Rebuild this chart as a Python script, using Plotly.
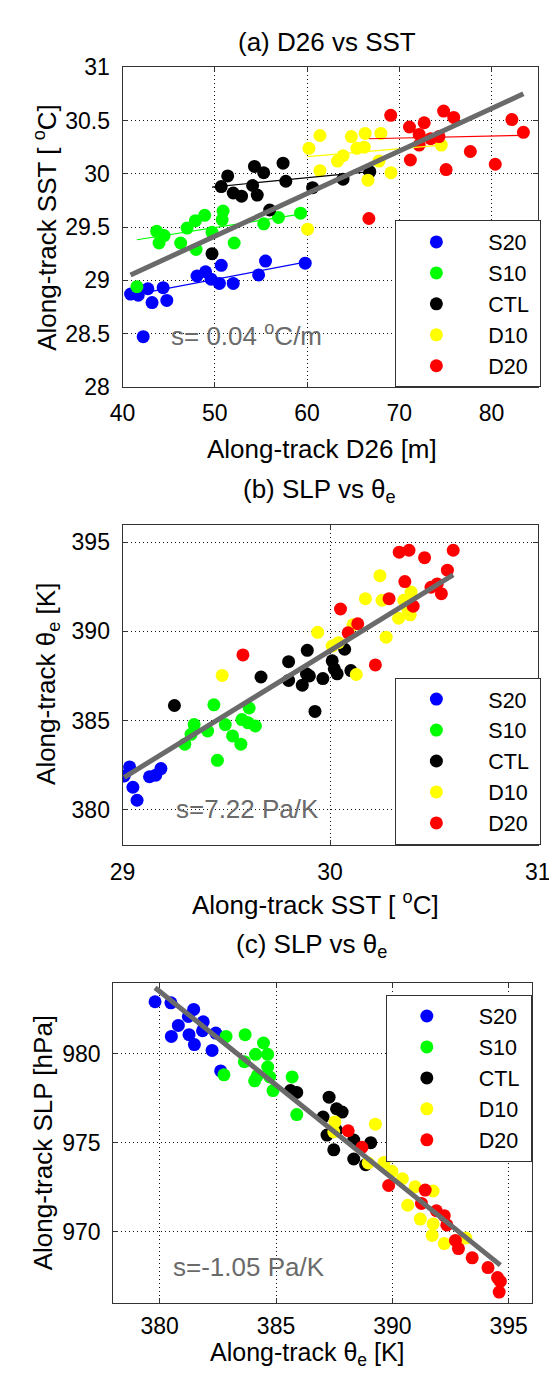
import plotly.graph_objects as go
import numpy as np

W, H = 557, 1375
groups = ["S20", "S10", "CTL", "D10", "D20"]
colors = {"S20": "#0000FF", "S10": "#00FF00", "CTL": "#000000", "D10": "#FFFF00", "D20": "#FF0000"}
GRAY = "#6a6a6a"

# ---------------- Panel (a): D26 vs SST ----------------
a_S20_x = [40.87, 41.7, 42.75, 43.2, 44.4, 44.8, 42.24, 48.07, 49.0, 49.6, 50.5, 50.7, 52.0, 54.75, 55.5, 59.8]
a_S20_y = [28.87, 28.86, 28.92, 28.79, 28.93, 28.81, 28.47, 29.04, 29.08, 29.01, 28.97, 29.14, 28.97, 29.05, 29.18, 29.16]
a_S10_x = [41.56, 43.7, 43.96, 44.5, 46.3, 47.0, 47.9, 47.97, 48.9, 49.7, 50.9, 50.8, 52.1, 55.3, 56.9, 59.3]
a_S10_y = [28.94, 29.46, 29.35, 29.42, 29.35, 29.49, 29.56, 29.29, 29.61, 29.45, 29.65, 29.57, 29.35, 29.53, 29.59, 29.63]
a_CTL_x = [49.7, 50.7, 51.4, 52.0, 52.9, 54.1, 54.3, 54.6, 55.3, 55.95, 57.4, 57.7, 60.6, 63.9, 66.8]
a_CTL_y = [29.25, 29.88, 29.98, 29.82, 29.79, 29.89, 30.07, 29.80, 30.01, 29.66, 30.10, 29.93, 29.87, 29.95, 30.02]
a_D10_x = [60.2, 60.06, 61.4, 61.4, 63.3, 63.9, 64.8, 65.4, 66.2, 66.3, 66.6, 67.8, 68.0, 69.1, 74.55]
a_D10_y = [30.24, 29.48, 30.36, 30.03, 30.12, 30.17, 30.35, 30.24, 30.25, 30.38, 29.94, 30.12, 30.38, 30.01, 30.27]
a_D20_x = [69.07, 66.7, 71.1, 71.2, 72.15, 72.7, 72.15, 73.4, 74.3, 74.8, 75.07, 75.9, 77.7, 80.4, 82.2, 83.45]
a_D20_y = [30.55, 29.58, 30.44, 30.13, 30.37, 30.48, 30.27, 30.33, 30.35, 30.59, 30.04, 30.53, 30.21, 30.09, 30.51, 30.39]
# per-group fit (slope, intercept)
a_fit_slope = [0.0165, 0.0136, 0.0085, 0.0075, 0.0019]
a_fit_icpt = [28.183, 28.815, 29.453, 29.711, 30.203]
a_all_slope, a_all_icpt = 0.04, 27.414

# ---------------- Panel (b): SST vs theta_e ----------------
b_S20_x = [29.008, 29.034, 29.05, 29.07, 29.13, 29.16, 29.185]
b_S20_y = [381.88, 382.39, 381.25, 380.52, 381.84, 381.93, 382.3]
b_S10_x = [29.30, 29.33, 29.345, 29.41, 29.44, 29.457, 29.495, 29.53, 29.57, 29.575, 29.61, 29.605, 29.64]
b_S10_y = [383.67, 384.22, 384.77, 384.41, 385.88, 382.76, 384.77, 384.13, 383.67, 385.05, 385.7, 384.87, 384.69]
b_CTL_x = [29.25, 29.667, 29.80, 29.80, 29.89, 29.886, 29.866, 29.927, 30.01, 30.02, 29.965, 30.034, 30.07, 30.10, 29.9]
b_CTL_y = [385.84, 387.44, 388.30, 387.25, 388.94, 387.62, 386.98, 385.51, 388.35, 387.9, 387.35, 387.62, 389.0, 387.8, 387.5]
b_D10_x = [29.48, 29.94, 30.01, 30.04, 30.11, 30.126, 30.17, 30.24, 30.25, 30.27, 30.33, 30.355, 30.375, 30.39, 30.386]
b_D10_y = [387.53, 389.95, 389.18, 389.37, 390.37, 387.58, 391.84, 393.13, 391.75, 389.68, 390.74, 391.75, 391.2, 392.21, 390.93]
b_D20_x = [29.58, 30.05, 30.087, 30.133, 30.218, 30.284, 30.333, 30.38, 30.36, 30.455, 30.40, 30.486, 30.516, 30.536, 30.565, 30.593]
b_D20_y = [388.68, 391.26, 389.92, 390.43, 388.12, 391.84, 394.45, 394.56, 392.8, 394.14, 391.42, 392.48, 392.67, 392.12, 393.44, 394.56]
b_all_slope, b_all_icpt = 7.17, 173.82

# ---------------- Panel (c): theta_e vs SLP ----------------
c_S20_x = [379.8, 380.48, 381.46, 381.23, 380.8, 380.5, 381.87, 381.26, 381.49, 381.84, 382.41, 382.25, 382.62]
c_S20_y = [982.93, 982.87, 982.5, 982.1, 981.6, 980.98, 981.8, 981.08, 980.52, 981.3, 981.17, 980.19, 979.04]
c_S10_x = [382.85, 383.67, 384.46, 384.12, 384.64, 383.64, 384.64, 384.19, 382.76, 385.69, 384.08, 384.73, 384.87, 385.89]
c_S10_y = [980.98, 981.08, 980.61, 979.97, 979.97, 979.56, 979.26, 978.76, 978.82, 978.7, 978.48, 978.7, 977.93, 976.58]
c_CTL_x = [385.62, 385.89, 387.28, 387.6, 387.84, 387.02, 387.19, 387.48, 388.34, 388.34, 389.07, 388.85, 387.6]
c_CTL_y = [977.93, 977.83, 977.56, 976.91, 976.72, 976.44, 975.43, 974.6, 975.15, 974.08, 975.0, 973.76, 975.7]
c_D10_x = [387.53, 387.48, 389.27, 388.96, 389.64, 389.98, 390.43, 390.98, 390.66, 391.75, 391.2, 391.75, 391.71, 392.23, 393.16]
c_D10_y = [976.17, 975.61, 976.04, 973.86, 973.89, 973.39, 972.97, 972.52, 971.48, 972.28, 970.7, 970.43, 969.78, 969.32, 969.63]
c_D20_x = [388.1, 388.69, 389.84, 391.41, 391.25, 391.89, 392.23, 392.34, 392.71, 392.84, 393.43, 394.11, 394.52, 394.64, 394.59]
c_D20_y = [975.67, 974.74, 972.59, 972.33, 971.58, 971.17, 970.89, 970.37, 969.5, 969.04, 968.52, 967.97, 967.41, 967.19, 966.59]
c_all_slope, c_all_icpt = -1.052, 1383.27

panels = {
    "a": {"S20": (a_S20_x, a_S20_y), "S10": (a_S10_x, a_S10_y), "CTL": (a_CTL_x, a_CTL_y),
          "D10": (a_D10_x, a_D10_y), "D20": (a_D20_x, a_D20_y)},
    "b": {"S20": (b_S20_x, b_S20_y), "S10": (b_S10_x, b_S10_y), "CTL": (b_CTL_x, b_CTL_y),
          "D10": (b_D10_x, b_D10_y), "D20": (b_D20_x, b_D20_y)},
    "c": {"S20": (c_S20_x, c_S20_y), "S10": (c_S10_x, c_S10_y), "CTL": (c_CTL_x, c_CTL_y),
          "D10": (c_D10_x, c_D10_y), "D20": (c_D20_x, c_D20_y)},
}
axes_ids = {"a": ("x", "y", "legend"), "b": ("x2", "y2", "legend2"), "c": ("x3", "y3", "legend3")}
overall = {"a": (a_all_slope, a_all_icpt), "b": (b_all_slope, b_all_icpt), "c": (c_all_slope, c_all_icpt)}

FONT = "Liberation Sans, Arial, Helvetica, sans-serif"
NB = "\u00a0"
fig = go.Figure()

for p, data in panels.items():
    xa, ya, lg = axes_ids[p]
    for g in groups:
        gx, gy = data[g]
        fig.add_trace(go.Scatter(x=gx, y=gy, mode="markers", name=NB * 2 + g + NB, legend=lg,
                                 xaxis=xa, yaxis=ya,
                                 marker=dict(size=13, color=colors[g], line=dict(width=0))))
    if p == "a":
        for i, g in enumerate(groups):
            gx, _ = data[g]
            xs = np.array([min(gx), max(gx)])
            fig.add_trace(go.Scatter(x=xs, y=a_fit_slope[i] * xs + a_fit_icpt[i], mode="lines",
                                     showlegend=False, xaxis=xa, yaxis=ya,
                                     line=dict(color=colors[g], width=1.2)))
    allx = np.concatenate([np.array(data[g][0]) for g in groups])
    xs = np.array([allx.min(), allx.max()])
    s, c = overall[p]
    fig.add_trace(go.Scatter(x=xs, y=s * xs + c, mode="lines", showlegend=False,
                             xaxis=xa, yaxis=ya, line=dict(color=GRAY, width=5)))

def px_x(v):
    return v / W

def px_y(v):
    return 1 - v / H

common_axis = dict(showline=True, mirror="ticks", linecolor="#333333", linewidth=1,
                   ticks="inside", ticklen=5, tickcolor="#333333",
                   showgrid=True, gridcolor="#111111", gridwidth=1, griddash="1px,3px",
                   zeroline=False, tickfont=dict(family=FONT, size=23, color="black"))
ycommon = dict(ticklabelstandoff=7, **common_axis)

fig.update_layout(
    width=W, height=H, margin=dict(l=0, r=0, t=0, b=0),
    paper_bgcolor="white", plot_bgcolor="white",
    font=dict(family=FONT, color="black"),
    xaxis=dict(domain=[px_x(106.5), px_x(542)], range=[40, 85], dtick=10, anchor="y",
               ticklabelstandoff=6, **common_axis),
    yaxis=dict(domain=[px_y(372.7), px_y(47.3)], range=[28, 31], dtick=0.5, anchor="x", **ycommon),
    xaxis2=dict(domain=[px_x(106.5), px_x(542)], range=[29, 31], dtick=1, anchor="y2",
                ticklabelstandoff=6, **common_axis),
    yaxis2=dict(domain=[px_y(840), px_y(513.3)], range=[378, 396], dtick=5, anchor="x2", **ycommon),
    xaxis3=dict(domain=[px_x(96.7), px_x(536)], range=[378, 396], tickvals=[380, 385, 390, 395],
                anchor="y3", ticklabelstandoff=3, **common_axis),
    yaxis3=dict(domain=[px_y(1306.3), px_y(980.3)], range=[966, 984], tickvals=[970, 975, 980], anchor="x3", **ycommon),
)

leg_common = dict(bgcolor="white", bordercolor="#333333", borderwidth=1,
                  font=dict(family=FONT, size=21.5, color="black"),
                  xanchor="left", yanchor="top", itemwidth=70, tracegroupgap=0)
fig.update_layout(
    legend=dict(x=px_x(392.7), y=px_y(203.3), **leg_common),
    legend2=dict(x=px_x(392.7), y=px_y(669.3), **leg_common),
    legend3=dict(x=px_x(382.7), y=px_y(992.3), **leg_common),
)

def ann(text, x, y, size=26, color="black", xanchor="center", textangle=0):
    fig.add_annotation(text=text, x=px_x(x), y=px_y(y), xref="paper", yref="paper",
                       showarrow=False, xanchor=xanchor, yanchor="middle", textangle=textangle,
                       font=dict(family=FONT, size=size, color=color))

# titles
ann("(a) D26 vs SST", 321, 21)
ann("(b) SLP vs θ<sub>e</sub>", 313, 479)
ann("(c) SLP vs θ<sub>e</sub>", 305, 942)
# x labels
ann("Along-track D26 [m]", 316, 436)
ann("Along-track SST [ <sup>o</sup>C]", 309, 899)
ann("Along-track θ<sub>e</sub> [K]", 301, 1359, size=25)
# y labels
ann("Along-track SST [ <sup>o</sup>C]", 25, 210, textangle=-90)
ann("Along-track θ<sub>e</sub> [K]", 27, 676, textangle=-90)
ann("Along-track SLP [hPa]", 24, 1143, textangle=-90)
# slopes
ann("s= 0.04 <sup>o</sup>C/m", 155, 320, size=26, color=GRAY, xanchor="left")
ann("s=7.22 Pa/K", 160, 803, size=26, color=GRAY, xanchor="left")
ann("s=-1.05 Pa/K", 157, 1270, size=26, color=GRAY, xanchor="left")

fig.write_html("out.html")
